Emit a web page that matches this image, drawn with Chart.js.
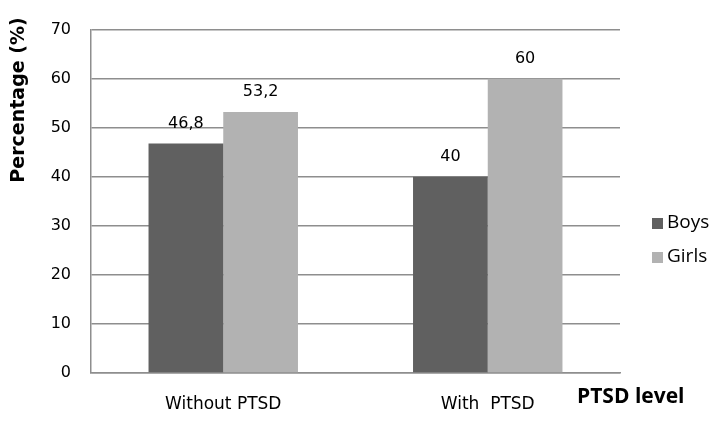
<!DOCTYPE html>
<html>
<head>
<meta charset="utf-8">
<script src="https://cdn.jsdelivr.net/npm/chart.js@4"></script>
<style>
  html, body { margin: 0; padding: 0; background: #fff; }
  #wrap { width: 719px; height: 425px; position: relative; }
</style>
</head>
<body>
<div id="wrap"><canvas id="ptsdChart"></canvas></div>
<script>
const categories = ['Without PTSD', 'With  PTSD'];
const seriesNames = ['Boys', 'Girls'];
const boysValues = [46.8, 40];
const girlsValues = [53.2, 60];
const seriesColors = ['#606060', '#b2b2b2'];
const yTicks = [0, 10, 20, 30, 40, 50, 60, 70];

const gridColor = '#8e8e8e';

// value labels above each bar, decimal comma like the original
const valueLabels = {
    id: 'valueLabels',
    afterDatasetsDraw(chart) {
        const ctx = chart.ctx;
        ctx.save();
        ctx.font = '16px "DejaVu Sans"';
        ctx.fillStyle = '#000';
        ctx.textAlign = 'center';
        ctx.textBaseline = 'middle';
        chart.data.datasets.forEach((ds, i) => {
            chart.getDatasetMeta(i).data.forEach((bar, j) => {
                const txt = String(ds.data[j]).replace('.', ',');
                ctx.fillText(txt, bar.x, bar.y - 20);
            });
        });
        ctx.restore();
    }
};

// axis titles + legend drawn by hand to keep the original placement
const extras = {
    id: 'extras',
    afterDraw(chart) {
        const ctx = chart.ctx;
        ctx.save();
        ctx.fillStyle = '#000';
        ctx.font = 'bold 19px "DejaVu Sans"';
        ctx.textAlign = 'center';
        ctx.textBaseline = 'middle';
        ctx.save();
        ctx.translate(19, 100);
        ctx.rotate(-Math.PI / 2);
        ctx.fillText('Percentage (%)', 0, 0);
        ctx.restore();

        ctx.textAlign = 'left';
        ctx.font = 'bold 21px "Open Sans"';
        ctx.fillText('PTSD level', 577, 397);

        ctx.font = '19px "Open Sans"';
        seriesNames.forEach((name, i) => {
            const y = 223 + i * 34;
            ctx.fillStyle = seriesColors[i];
            ctx.fillRect(652, y - 5, 11, 11);
            ctx.fillStyle = '#000';
            ctx.fillText(name, 667, y);
        });
        ctx.restore();
    }
};

new Chart(document.getElementById('ptsdChart'), {
    type: 'bar',
    data: {
        labels: categories,
        datasets: [
            { label: seriesNames[0], data: boysValues, backgroundColor: seriesColors[0] },
            { label: seriesNames[1], data: girlsValues, backgroundColor: seriesColors[1] }
        ]
    },
    options: {
        responsive: true,
        maintainAspectRatio: false,
        animation: false,
        layout: { padding: { left: 0, right: 99, top: 20, bottom: 0 } },
        plugins: { legend: { display: false }, tooltip: { enabled: false } },
        datasets: { bar: { categoryPercentage: 0.565, barPercentage: 1.0 } },
        scales: {
            x: {
                grid: { display: false, drawTicks: false },
                border: { display: true, color: gridColor, width: 1.5 },
                ticks: { font: { family: 'DejaVu Sans', size: 17 }, color: '#000', padding: 21 },
                afterFit: s => { s.height = 52; }
            },
            y: {
                min: 0,
                max: 70,
                afterBuildTicks: s => { s.ticks = yTicks.map(v => ({ value: v })); },
                grid: { color: gridColor, lineWidth: 1.5, drawTicks: false },
                border: { display: true, color: gridColor, width: 1.5 },
                ticks: { font: { family: 'DejaVu Sans', size: 16 }, color: '#000', padding: 20 },
                afterFit: s => { s.width = 91; }
            }
        }
    },
    plugins: [valueLabels, extras]
});
</script>
</body>
</html>
